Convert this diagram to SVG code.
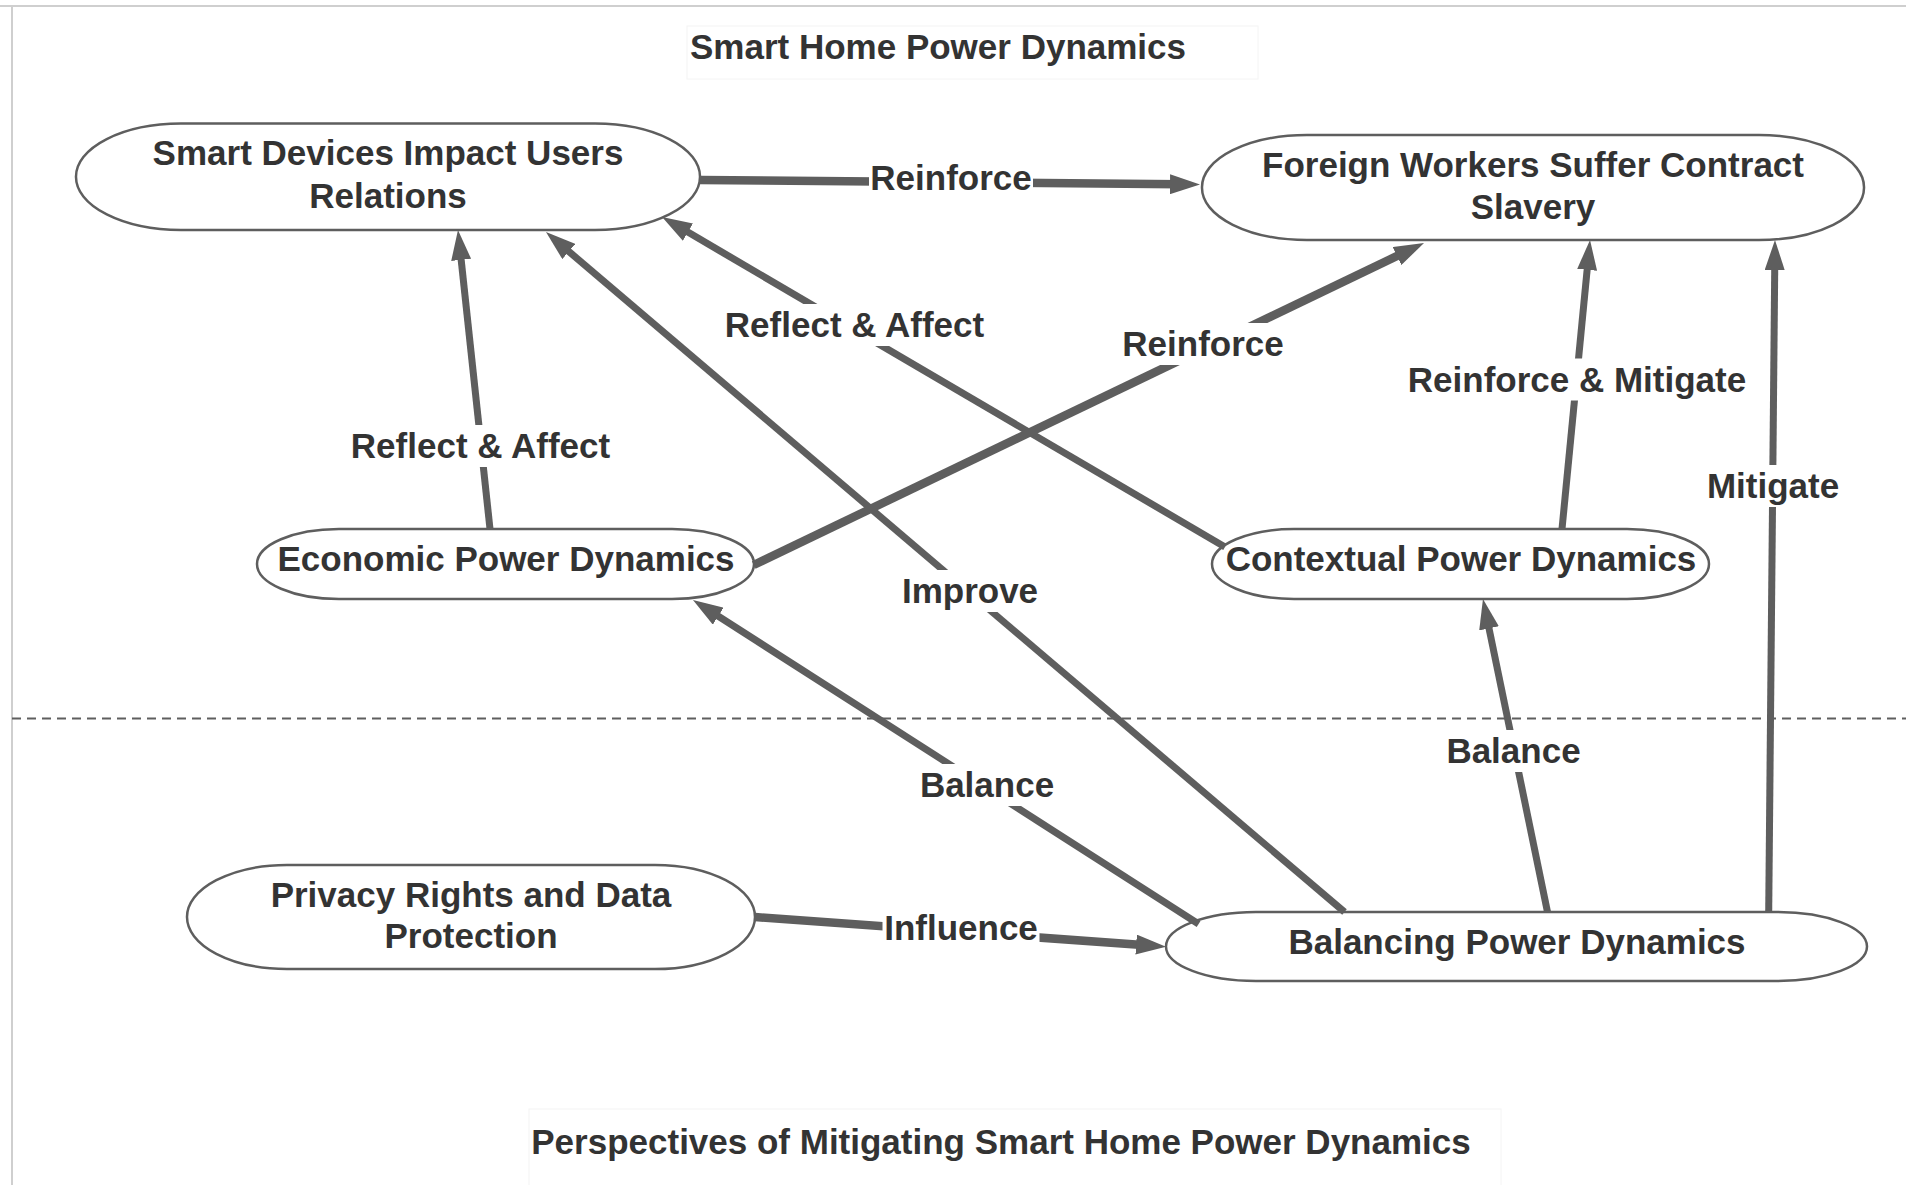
<svg xmlns="http://www.w3.org/2000/svg" width="1906" height="1185" viewBox="0 0 1906 1185">
<style>
  .t{font-family:"Liberation Sans",Arial,sans-serif;font-weight:bold;font-size:35px;fill:#333333;text-anchor:middle}
  .node{fill:#ffffff;stroke:#5e5e5e;stroke-width:2.5}
  .ln{fill:none;stroke:#5e5e5e;stroke-width:7;marker-end:url(#ah)}
  .thick{stroke-width:8.5}
  .lbg{fill:#ffffff}
</style>
<defs>
  <marker id="ah" markerUnits="userSpaceOnUse" markerWidth="30" markerHeight="20" refX="10" refY="10" orient="auto">
    <path d="M0,0 L30,10 L0,20 Z" fill="#5e5e5e"/>
  </marker>
</defs>
<rect x="0" y="0" width="1906" height="1185" fill="#ffffff"/>
<g id="page">
  <line x1="0" y1="6" x2="1906" y2="6" stroke="#cfcfcf" stroke-width="2"/>
  <line x1="12" y1="6" x2="12" y2="1185" stroke="#cfcfcf" stroke-width="2"/>
  <line x1="12" y1="718.5" x2="1906" y2="718.5" stroke="#5e5e5e" stroke-width="2" stroke-dasharray="9 6"/>
</g>
<g id="title-top">
  <rect x="687" y="26" width="571" height="53" fill="none" stroke="#f4f4f4" stroke-width="1"/>
  <text class="t" x="938" y="59">Smart Home Power Dynamics</text>
</g>
<g id="title-bottom">
  <rect x="529" y="1109" width="972" height="90" fill="none" stroke="#f4f4f4" stroke-width="1"/>
  <text class="t" x="1001" y="1154">Perspectives of Mitigating Smart Home Power Dynamics</text>
</g>
<g id="n-smart-devices">
  <rect class="node" x="76" y="123.5" width="624" height="106.5" rx="105" ry="53"/>
  <text class="t" x="388" y="165">Smart Devices Impact Users</text>
  <text class="t" x="388" y="207.5">Relations</text>
</g>
<g id="n-foreign-workers">
  <rect class="node" x="1202" y="135" width="662" height="105" rx="105" ry="52"/>
  <text class="t" x="1533" y="176.5">Foreign Workers Suffer Contract</text>
  <text class="t" x="1533" y="219">Slavery</text>
</g>
<g id="n-economic">
  <rect class="node" x="257" y="529" width="497" height="70" rx="82" ry="35"/>
  <text class="t" x="506" y="571">Economic Power Dynamics</text>
</g>
<g id="n-contextual">
  <rect class="node" x="1212" y="529" width="497" height="70" rx="82" ry="35"/>
  <text class="t" x="1461" y="571">Contextual Power Dynamics</text>
</g>
<g id="n-privacy">
  <rect class="node" x="187" y="865" width="568" height="104" rx="100" ry="52"/>
  <text class="t" x="471" y="906.5">Privacy Rights and Data</text>
  <text class="t" x="471" y="948">Protection</text>
</g>
<g id="n-balancing">
  <rect class="node" x="1166" y="912" width="701" height="69" rx="90" ry="34.5"/>
  <text class="t" x="1517" y="954">Balancing Power Dynamics</text>
</g>
<g id="connectors">
  <path class="ln thick" d="M700,180 L1180,184.3"/>
  <path class="ln" d="M490,529 L460.1,249.9"/>
  <path class="ln" d="M1225,547 L679.3,227.1"/>
  <path class="ln" d="M1344.5,912 L561.2,245"/>
  <path class="ln thick" d="M753.7,565 L1406,251.7"/>
  <path class="ln" d="M1562,529 L1588.1,259.9"/>
  <path class="ln" d="M1768.7,912 L1774.8,260"/>
  <path class="ln" d="M1198.6,924 L709.8,610.8"/>
  <path class="ln" d="M1547.5,912 L1487,618.6"/>
  <path class="ln thick" d="M755,917 L1146.1,945.3"/>

  <rect class="lbg" x="869" y="156.5" width="164" height="42"/>
  <text class="t" x="951" y="190">Reinforce</text>

  <rect class="lbg" x="349" y="425" width="263" height="42"/>
  <text class="t" x="480.5" y="457.5">Reflect &amp; Affect</text>

  <rect class="lbg" x="723" y="304" width="263" height="42"/>
  <text class="t" x="854.5" y="336.5">Reflect &amp; Affect</text>

  <rect class="lbg" x="901" y="570" width="139" height="42"/>
  <text class="t" x="970" y="603">Improve</text>

  <rect class="lbg" x="1121" y="323" width="164" height="42"/>
  <text class="t" x="1203" y="356">Reinforce</text>

  <rect class="lbg" x="1407" y="358.5" width="341" height="42"/>
  <text class="t" x="1577" y="391.5">Reinforce &amp; Mitigate</text>

  <rect class="lbg" x="1706" y="465" width="135" height="42"/>
  <text class="t" x="1773" y="498">Mitigate</text>

  <rect class="lbg" x="919" y="764" width="137" height="42"/>
  <text class="t" x="987" y="797">Balance</text>

  <rect class="lbg" x="1445" y="730" width="137" height="42"/>
  <text class="t" x="1513.5" y="763">Balance</text>

  <rect class="lbg" x="882.5" y="907" width="157" height="42"/>
  <text class="t" x="961" y="940">Influence</text>
</g>
</svg>
